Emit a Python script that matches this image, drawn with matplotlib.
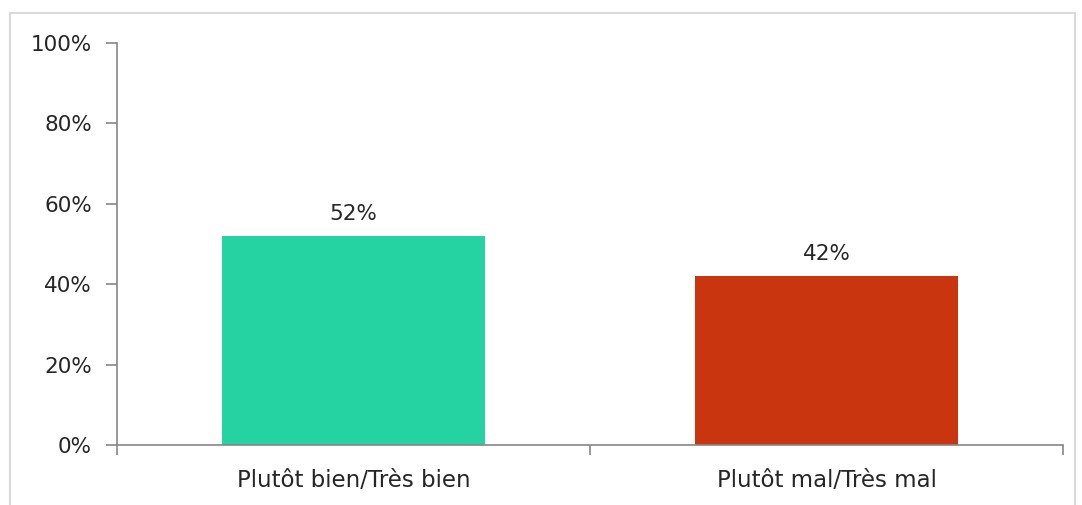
import matplotlib
matplotlib.use("Agg")
import matplotlib.pyplot as plt
from matplotlib.patches import Rectangle

categories = ["Plutôt bien/Très bien", "Plutôt mal/Très mal"]
values = [52, 42]
colors = ["#24D3A1", "#C9350F"]
yticks = [0, 20, 40, 60, 80, 100]

plt.rcParams['font.family'] = ['DejaVu Sans']
fs = 15.5

fig = plt.figure(figsize=(10.82, 5.05), dpi=100)
# light grey frame round the chart area
fig.patches.append(Rectangle((10 / 1082, -0.05), 1065 / 1082, 1 - 13 / 505 + 0.05,
                             transform=fig.transFigure, fill=False,
                             edgecolor="#D9D9D9", linewidth=1.5))

ax = fig.add_axes([117 / 1082, 1 - 445 / 505, 946 / 1082, 402 / 505])
x = range(len(categories))
ax.bar(x, values, width=0.556, color=colors)
for i, v in enumerate(values):
    ax.text(i, v + 5.5, f"{v}%", ha="center", va="center", fontsize=fs, color="#262626")

ax.set_xlim(-0.5, 1.5)
ax.set_ylim(0, 100)
ax.set_yticks(yticks)
ax.set_yticklabels([f"{t}%" for t in yticks], fontsize=fs, color="#262626")
ax.set_xticks([-0.5, 0.5, 1.5])
ax.set_xticklabels([])
ax.set_xticks(list(x), minor=True)
ax.set_xticklabels(categories, minor=True, fontsize=16.5, color="#262626")
ax.tick_params(axis="x", which="minor", length=0, pad=17)
ax.tick_params(axis="x", which="major", length=7, color="#868686", width=1.2)
ax.tick_params(axis="y", length=8, color="#868686", width=1.2, pad=10)

for s in ["top", "right"]:
    ax.spines[s].set_visible(False)
for s in ["left", "bottom"]:
    ax.spines[s].set_color("#868686")
    ax.spines[s].set_linewidth(1.2)

fig.savefig("out.png", dpi=100)
